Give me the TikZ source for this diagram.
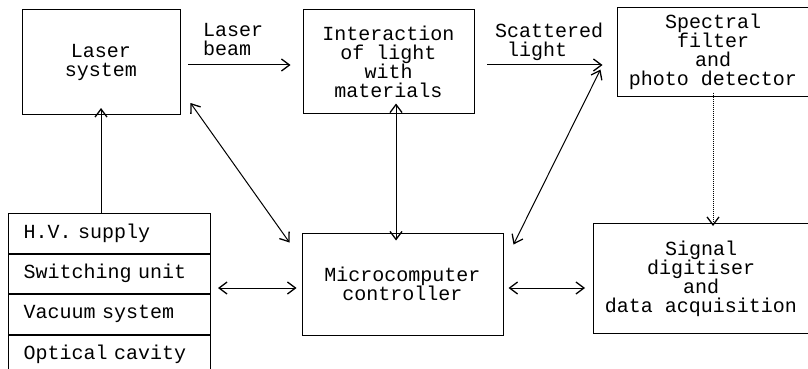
\documentclass[tikz,border=0pt]{standalone}
\usepackage{fontspec}
\setmonofont{Liberation Mono}
\usetikzlibrary{arrows.meta}
\tikzset{
  tip/.tip={Straight Barb[length=8pt,width=12pt,line width=1.3pt]},
  txt/.style={font=\ttfamily\fontsize{20}{19}\selectfont},
  blk/.style={draw, line width=1pt, rectangle, inner sep=0pt, txt, align=center},
  lbl/.style={inner sep=0pt, txt, align=left, anchor=north west},
  conn/.style={line width=1pt, -tip},
  dconn/.style={line width=1pt, tip-tip},
  row/.style={draw, line width=1pt, minimum width=202pt, minimum height=39.5pt, inner sep=0pt, txt, text width=172pt, align=left},
}
\begin{document}
\begin{tikzpicture}[x=1pt,y=-1pt]
\useasboundingbox (0,0) rectangle (808,369);
% top row
\node[blk, minimum width=158pt, minimum height=105pt] (laser) at (101,62) {Laser\\system};
\node[blk, minimum width=171pt, minimum height=103pt] (inter) at (388.5,61.5) {Interaction\\of light\\with\\materials};
\node[blk, minimum width=192pt, minimum height=88pt] (spec) at (713,52) {Spectral\\filter\\and\\photo detector};
% labels
\node[lbl] (lb) at (203,23) {Laser\\beam};
\node[lbl] (sl) at (495,23) {Scattered\\\ light};
\coordinate (lbs) at (188,65);
\coordinate (lbe) at (inter.west |- lbs);
\coordinate (sls) at (487,65);
\coordinate (sle) at (spec.west |- sls);
\draw[conn] (lbs) -- ([xshift=-12pt]lbe);
\draw[conn] (sls) -- ([xshift=-14pt]sle);
% bottom row
\node[blk, minimum width=201pt, minimum height=102pt] (micro) at (402.5,284) {Microcomputer\\controller};
\node[blk, minimum width=215pt, minimum height=110pt, anchor=north west] (sig) at (593,223) {Signal\\digitiser\\and\\data acquisition};
% stack
\node[row, anchor=north west] (hv) at (8,213) {H.V. supply};
\node[row, anchor=north] (sw) at (hv.south) {Switching unit};
\node[row, anchor=north] (vac) at (sw.south) {Vacuum system};
\node[row, anchor=north] (opt) at (vac.south) {Optical cavity};
% connectors
\draw[conn] (laser.south |- hv.north) -- ([yshift=7pt]laser.south);
\draw[dconn] ([shift={(10pt,12pt)}]laser.south east) -- ([shift={(-12pt,-10pt)}]micro.north west);
\draw[dconn] ([xshift=7.5pt,yshift=10pt]inter.south) -- ([xshift=-6.5pt,yshift=-8pt]micro.north);
\draw[dconn] ([shift={(-16pt,27pt)}]spec.south west) -- ([shift={(10pt,-12pt)}]micro.north east);
\draw[conn, densely dotted] ([yshift=4pt]spec.south) -- ([yshift=-3pt]sig.north -| spec.south);
\coordinate (mid) at (0,288);
\draw[dconn] ([xshift=-5pt]micro.west |- mid) -- ([xshift=7pt]sw.east |- mid);
\draw[dconn] ([xshift=5pt]micro.east |- mid) -- ([xshift=-8pt]sig.west |- mid);
\end{tikzpicture}
\end{document}
